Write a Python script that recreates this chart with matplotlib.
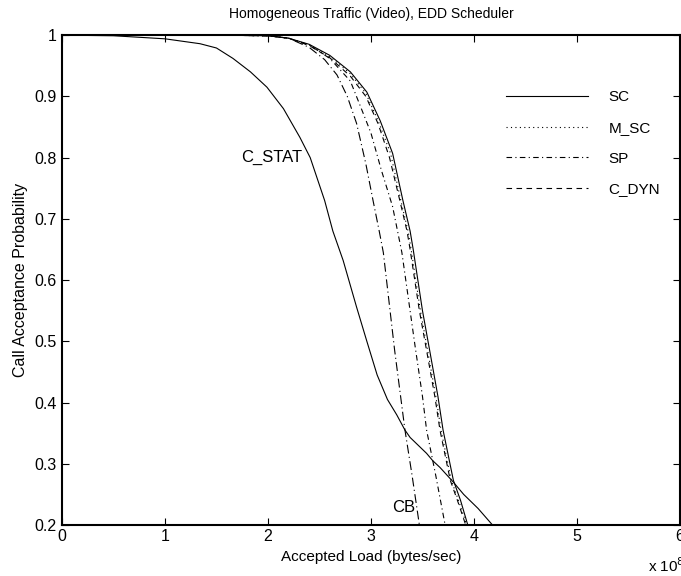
import numpy as np
import matplotlib
matplotlib.use('Agg')
import matplotlib.pyplot as plt

plt.rcParams['font.family'] = ['Liberation Sans', 'DejaVu Sans']
plt.rcParams['font.size'] = 11

# accepted load in units of 1e8 bytes/sec, call acceptance probability
sc_x = [0, 1.5, 2.0, 2.2, 2.4, 2.6, 2.8, 2.96, 3.09, 3.21, 3.31, 3.38, 3.41,
        3.50, 3.57, 3.65, 3.70, 3.80, 3.87, 3.94]
sc_y = [1.0, 1.0, 0.999, 0.995, 0.985, 0.967, 0.94, 0.907, 0.86, 0.807, 0.73,
        0.68, 0.65, 0.55, 0.485, 0.41, 0.355, 0.273, 0.24, 0.2]

msc_x = [0, 1.5, 2.0, 2.2, 2.4, 2.6, 2.8, 2.95, 3.07, 3.19, 3.29, 3.36, 3.39,
         3.48, 3.55, 3.63, 3.68, 3.78, 3.85, 3.93]
msc_y = [1.0, 1.0, 0.999, 0.995, 0.984, 0.965, 0.937, 0.905, 0.86, 0.807, 0.73,
         0.68, 0.65, 0.55, 0.485, 0.41, 0.355, 0.273, 0.24, 0.2]

sp_x = [0, 1.5, 2.0, 2.2, 2.4, 2.6, 2.8, 2.93, 3.0, 3.1, 3.21, 3.30, 3.43,
        3.50, 3.54, 3.63, 3.72]
sp_y = [1.0, 1.0, 0.999, 0.995, 0.984, 0.962, 0.925, 0.87, 0.84, 0.78, 0.72,
        0.645, 0.49, 0.41, 0.355, 0.28, 0.2]

cdyn_x = [0, 1.5, 2.0, 2.2, 2.4, 2.6, 2.8, 2.95, 3.07, 3.18, 3.28, 3.35, 3.38,
          3.47, 3.54, 3.62, 3.67, 3.77, 3.84, 3.92]
cdyn_y = [1.0, 1.0, 0.999, 0.995, 0.983, 0.963, 0.933, 0.9, 0.855, 0.8, 0.73,
          0.68, 0.65, 0.55, 0.485, 0.41, 0.355, 0.273, 0.24, 0.2]

cstat_x = [0, 0.5, 1.0, 1.34, 1.5, 1.66, 1.83, 1.99, 2.15, 2.31, 2.41, 2.55,
           2.63, 2.73, 2.86, 2.96, 3.06, 3.16, 3.25, 3.33, 3.38, 3.54, 3.60,
           3.67, 3.80, 3.90, 4.04, 4.18]
cstat_y = [1.0, 0.999, 0.994, 0.986, 0.979, 0.962, 0.94, 0.915, 0.88, 0.833,
           0.80, 0.73, 0.68, 0.632, 0.556, 0.50, 0.445, 0.405, 0.38, 0.355,
           0.343, 0.317, 0.305, 0.294, 0.27, 0.25, 0.227, 0.2]

cb_x = [0, 1.5, 2.0, 2.2, 2.4, 2.55, 2.67, 2.77, 2.86, 2.95, 3.02, 3.08, 3.12,
        3.23, 3.28, 3.33, 3.40, 3.47]
cb_y = [1.0, 1.0, 0.999, 0.995, 0.98, 0.96, 0.935, 0.90, 0.856, 0.79, 0.73,
        0.68, 0.645, 0.485, 0.42, 0.355, 0.28, 0.2]

xticks = [0, 1, 2, 3, 4, 5, 6]
yticks = [0.2, 0.3, 0.4, 0.5, 0.6, 0.7, 0.8, 0.9, 1.0]
ytick_labels = ['0.2', '0.3', '0.4', '0.5', '0.6', '0.7', '0.8', '0.9', '1']

fig = plt.figure(figsize=(6.81, 5.76), dpi=100)
ax = fig.add_axes([0.091, 0.0885, 0.9075, 0.8505])

lw = 0.8
ax.plot(sc_x, sc_y, 'k-', lw=lw, label='SC')
ax.plot(msc_x, msc_y, 'k', ls=(0, (1, 3)), lw=lw, label='M_SC')
ax.plot(sp_x, sp_y, 'k', ls=(0, (5, 3, 1, 3)), lw=lw, label='SP')
ax.plot(cdyn_x, cdyn_y, 'k', ls=(0, (5, 4)), lw=lw, label='C_DYN')
ax.plot(cstat_x, cstat_y, 'k-', lw=lw)
ax.plot(cb_x, cb_y, 'k', ls=(0, (8, 3, 1, 3)), lw=lw)

ax.text(2.33, 0.80, 'C_STAT', ha='right', va='center', fontsize=12)
ax.text(3.43, 0.228, 'CB', ha='right', va='center', fontsize=12)

ax.set_xlim(0, 6)
ax.set_ylim(0.2, 1.0)
ax.set_xticks(xticks)
ax.set_xticklabels([str(t) for t in xticks])
ax.set_yticks(yticks)
ax.set_yticklabels(ytick_labels)
ax.tick_params(direction='in', top=True, right=True, length=5, width=0.8,
               labelsize=11.5)
ax.tick_params(axis='x', pad=3)
ax.tick_params(axis='y', pad=4)
for s in ax.spines.values():
    s.set_linewidth(1.5)

ax.set_title('Homogeneous Traffic (Video), EDD Scheduler', fontsize=10, pad=12)
ax.set_xlabel('Accepted Load (bytes/sec)', fontsize=11, labelpad=4)
ax.set_ylabel('Call Acceptance Probability', fontsize=11.5, labelpad=4)
fig.text(0.951, 0.002, 'x 10$^{8}$', fontsize=11, ha='left', va='bottom')

ax.legend(loc='upper left', bbox_to_anchor=(0.718, 0.887), frameon=False,
          handlelength=5.37, handletextpad=1.37, labelspacing=1.09,
          borderpad=0, borderaxespad=0, fontsize=11)

fig.savefig('out.png', dpi=100)
